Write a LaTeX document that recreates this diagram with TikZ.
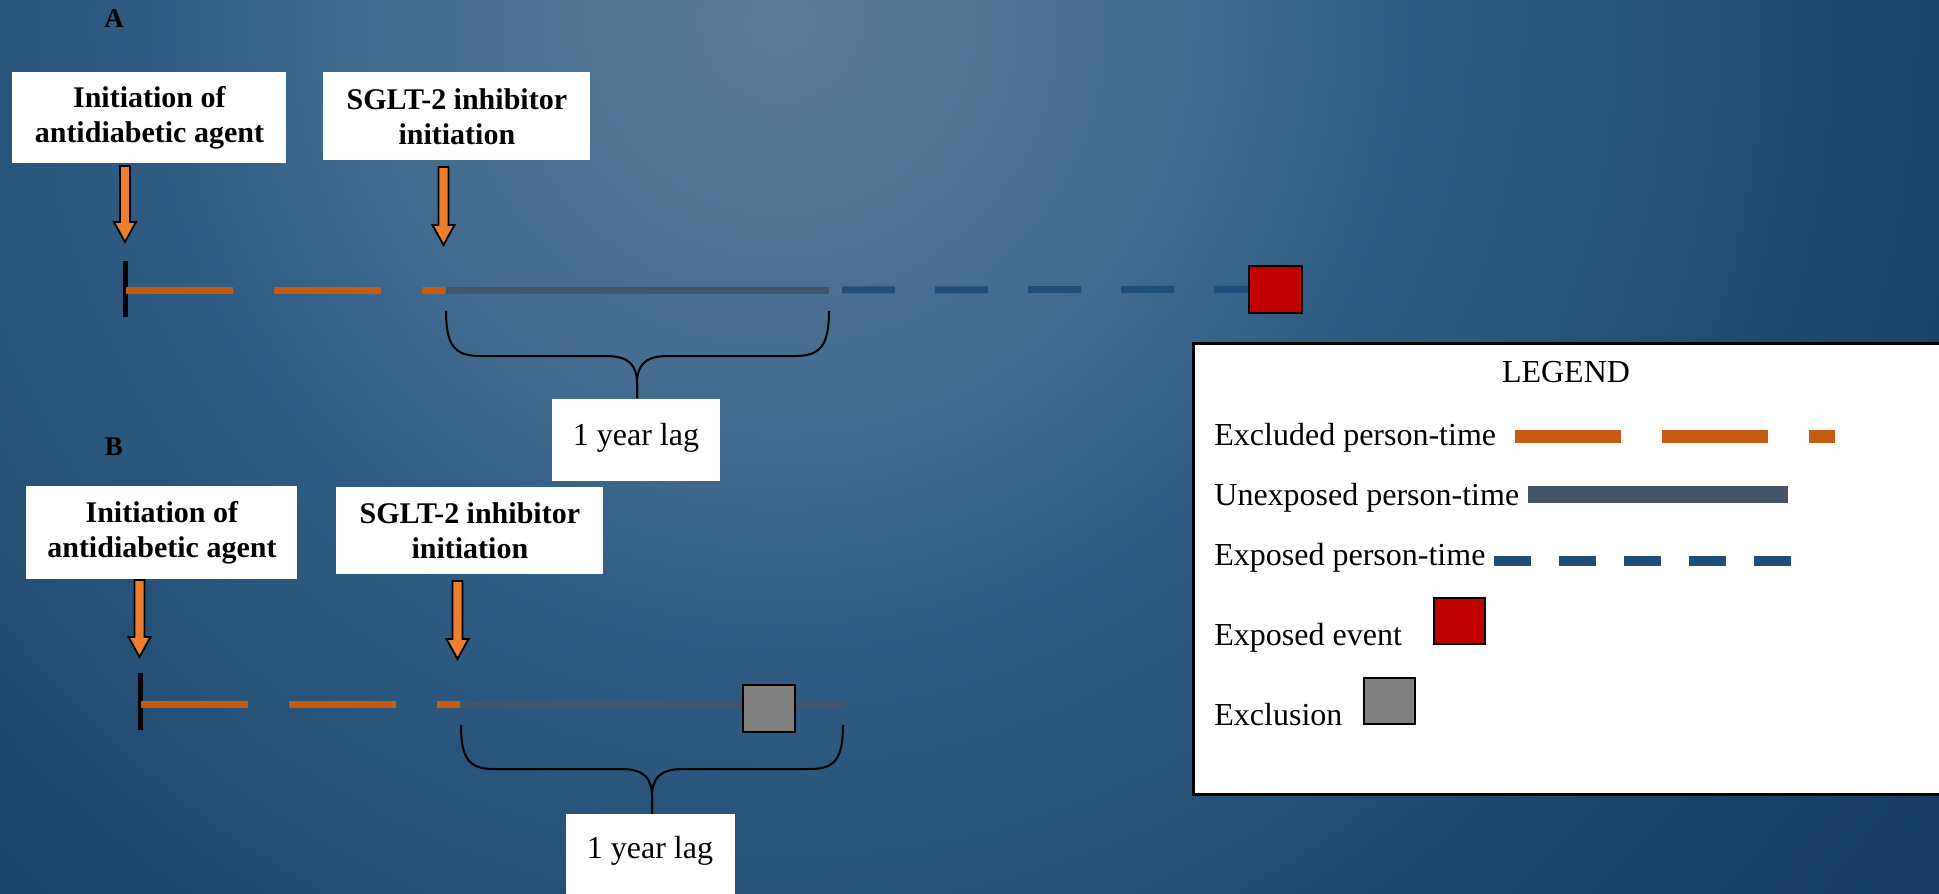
\documentclass[tikz,border=0pt]{standalone}
\usepackage{fontspec}
\setmainfont{Liberation Serif}
\definecolor{bgc0}{RGB}{90,124,154}
\definecolor{bgc1}{RGB}{64,106,142}
\definecolor{bgc2}{RGB}{48,92,131}
\definecolor{bgc3}{RGB}{40,83,121}
\definecolor{bgc4}{RGB}{28,68,105}
\definecolor{bgc5}{RGB}{22,60,98}
\definecolor{exclor}{HTML}{C55A11}
\definecolor{unexp}{HTML}{44546A}
\definecolor{expblue}{HTML}{1F4E79}
\definecolor{evred}{HTML}{C00000}
\definecolor{exgray}{HTML}{808080}
\definecolor{arrowor}{HTML}{ED7D31}
\pgfdeclareradialshading{bgshade}{\pgfpoint{0bp}{0bp}}{color(0bp)=(bgc0); color(7.3bp)=(bgc1); color(10.2bp)=(bgc2); color(14.15bp)=(bgc3); color(19.45bp)=(bgc4); color(24.15bp)=(bgc5); color(50bp)=(bgc5)}
\newcommand\fatarrow[3]{%
  \draw[fatarr] (#1-5,#2) -- (#1-5,#3-20) -- (#1-11,#3-20) -- (#1,#3) -- (#1+11,#3-20) -- (#1+5,#3-20) -- (#1+5,#2) -- cycle;}
\tikzset{
  infobox/.style={fill=white, inner sep=0pt, align=center, anchor=north west,
    font=\bfseries\fontsize{15}{17.5}\selectfont},
  lagbox/.style={fill=white, inner sep=0pt, anchor=north west},
  plain/.style={font=\fontsize{16}{19}\selectfont, inner sep=0pt},
  panel/.style={font=\bfseries\fontsize{13.5}{15}\selectfont, inner sep=0pt},
  fatarr/.style={fill=arrowor, draw=black, line width=0.9pt, line join=miter},
  tick/.style={draw=black, line width=2.5pt},
  exclline/.style={draw=exclor, line width=3.5pt, dash pattern=on 53.5pt off 20.5pt},
  unexline/.style={draw=unexp, line width=3.5pt},
  expline/.style={draw=expblue, line width=3.5pt, dash pattern=on 26.5pt off 20pt},
  eventsq/.style={fill=evred, draw=black, line width=0.8pt, inner sep=0pt, anchor=north west},
  exclsq/.style={fill=exgray, draw=black, line width=0.8pt, inner sep=0pt, anchor=north west},
  bracel/.style={draw=black, line width=1pt},
}
\begin{document}
\begin{tikzpicture}[x=0.5pt,y=-0.5pt]
\useasboundingbox (0,0) rectangle (1939,894);
% background
\begin{scope}
  \clip (0,0) rectangle (1939,894);
  \fill[bgc5] (0,0) rectangle (1939,894);
  \shade[shading=bgshade] (780,20) circle [radius=750pt];
\end{scope}

% ---------- Panel A ----------
\node[panel] (labA) at (114,19) {A};
\node[infobox, minimum width=137pt, minimum height=45.5pt] (initA) at (12,72)
  {Initiation of\\antidiabetic agent};
\node[infobox, minimum width=133.5pt, minimum height=44pt] (sgltA) at (323,72)
  {SGLT-2 inhibitor\\initiation};
\fatarrow{125}{166}{242}
\fatarrow{443.5}{167}{245}
\coordinate (tA1) at (125,261);
\coordinate (tA2) at (125,317);
\draw[tick] (tA1) -- (tA2);
\coordinate (oA0) at (126,290);
\coordinate (oA1) at (446,290);
\coordinate (gA1) at (829,290);
\coordinate (bA0) at (842,290);
\draw[exclline] (oA0) -- (oA1);
\draw[unexline] (oA1) -- (gA1);
\node[eventsq, minimum width=26.5pt, minimum height=23.5pt] (evA) at (1248,265) {};
\draw[expline] (bA0) -- (evA.west);
% brace A
\draw[bracel] (446,311) .. controls (446,346) and (455,356) .. (480,356) -- (606,356)
  .. controls (630,356) and (637,366) .. (637,384) -- (637,398);
\draw[bracel] (829,311) .. controls (829,346) and (820,356) .. (795,356) -- (668,356)
  .. controls (644,356) and (637,366) .. (637,384) -- (637,398);
\node[lagbox, minimum width=84pt, minimum height=41pt] (lagA) at (552,399) {};
\node[plain] (lagAt) at (636,438) {1 year lag};

% ---------- Panel B ----------
\node[panel] (labB) at (114,447) {B};
\node[infobox, minimum width=135.5pt, minimum height=46.5pt] (initB) at (26,486)
  {Initiation of\\antidiabetic agent};
\node[infobox, minimum width=133.5pt, minimum height=43.5pt] (sgltB) at (336,487)
  {SGLT-2 inhibitor\\initiation};
\fatarrow{139.5}{580}{657}
\fatarrow{457.5}{581}{659}
\coordinate (tB1) at (140,673);
\coordinate (tB2) at (140,730);
\draw[tick] (tB1) -- (tB2);
\coordinate (oB0) at (141,704);
\coordinate (oB1) at (460,704);
\coordinate (gB1) at (844,704);
\draw[exclline] (oB0) -- (oB1);
\draw[unexline] (oB1) -- (gB1);
\node[exclsq, minimum width=26pt, minimum height=23.5pt] (exB) at (742,684) {};
% brace B
\draw[bracel] (461,725) .. controls (461,760) and (470,769) .. (494,769) -- (621,769)
  .. controls (645,769) and (652,779) .. (652,797) -- (652,814);
\draw[bracel] (843,725) .. controls (843,760) and (834,769) .. (810,769) -- (683,769)
  .. controls (659,769) and (652,779) .. (652,797) -- (652,814);
\node[lagbox, minimum width=84.5pt, minimum height=45pt] (lagB) at (566,814) {};
\node[plain] (lagBt) at (650,851) {1 year lag};

% ---------- Legend ----------
\node[draw=black, line width=1.3pt, fill=white, inner sep=0pt, anchor=north west,
  minimum width=380pt, minimum height=225.5pt] (legend) at (1192,342) {};
\node[plain] (legT) at (1566,372) {LEGEND};
\node[plain, anchor=west] (l1) at (1214,438) {Excluded person-time};
\node[plain, anchor=west] (l2) at (1214,498) {Unexposed person-time};
\node[plain, anchor=west] (l3) at (1214,558) {Exposed person-time};
\node[plain, anchor=west] (l4) at (1214,638) {Exposed event};
\node[plain, anchor=west] (l5) at (1214,715) {Exclusion};
\coordinate (le1a) at (1515,436);
\coordinate (le1b) at (1835,436);
\draw[exclor, line width=6.5pt, dash pattern=on 53pt off 20.5pt] (le1a) -- (le1b);
\coordinate (le2a) at (1528,494);
\coordinate (le2b) at (1788,494);
\draw[unexp, line width=8.5pt] (le2a) -- (le2b);
\coordinate (le3a) at (1494,561);
\coordinate (le3b) at (1792,561);
\draw[expblue, line width=4.75pt, dash pattern=on 18.5pt off 14pt] (le3a) -- (le3b);
\node[eventsq, minimum width=25.5pt, minimum height=23pt] (lev) at (1433,597) {};
\node[exclsq, minimum width=25.5pt, minimum height=23pt] (lex) at (1363,677) {};
\end{tikzpicture}
\end{document}
